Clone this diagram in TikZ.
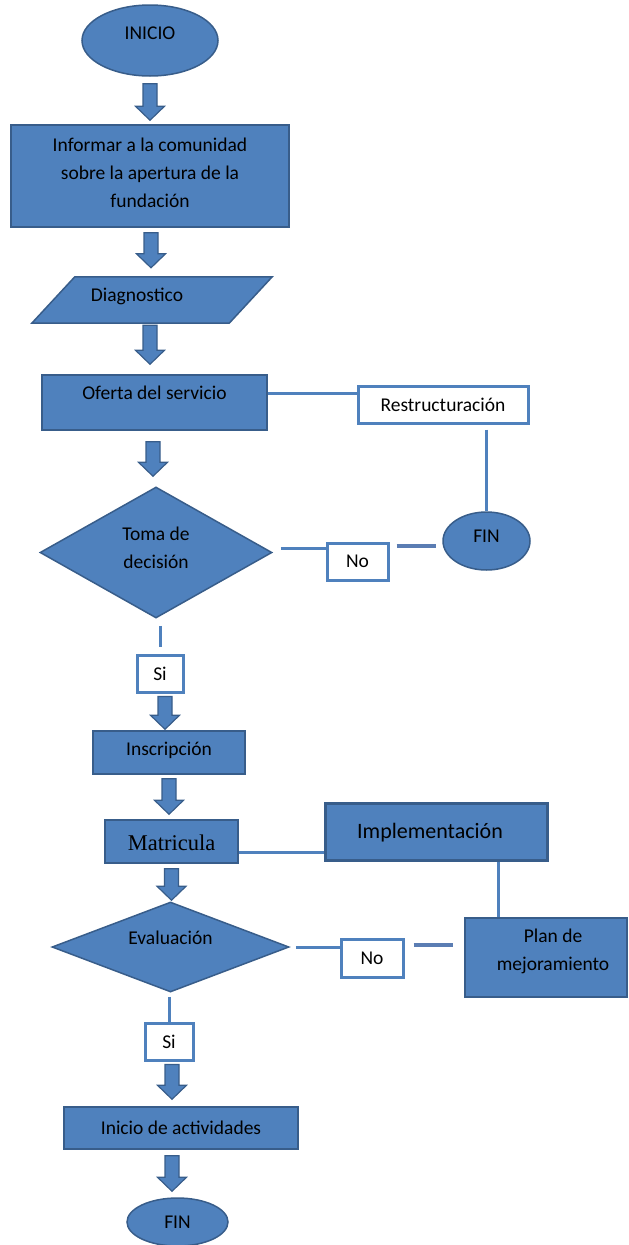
\documentclass[tikz,border=0pt]{standalone}
\usepackage{fontspec}
\setmainfont{Carlito}
\newfontfamily\timesf{Liberation Serif}
\usetikzlibrary{shapes.geometric,calc,backgrounds}
\definecolor{fillb}{HTML}{4F81BD}
\definecolor{bord}{HTML}{385D8A}
\definecolor{linec}{HTML}{4F81BD}
\definecolor{thickc}{HTML}{5B7DB3}
\newcommand\barrow[5]{%
  \draw[barrowst] let \p1=($(#1.south)+(#3pt,-#4pt)$), \p2=($(#2.north)+(0pt,#5pt)$) in
   ({\x1-7pt},{\y1}) -- ({\x1+7pt},{\y1}) -- ({\x1+7pt},{\y2+14pt}) -- ({\x1+14.5pt},{\y2+14pt})
   -- ({\x1},{\y2}) -- ({\x1-14.5pt},{\y2+14pt}) -- ({\x1-7pt},{\y2+14pt}) -- cycle;}
\begin{document}
\begin{tikzpicture}[x=1pt,y=-1pt,
  every node/.style={font=\fontsize{19.5}{28}\selectfont, inner sep=0pt, text=black},
  bluebox/.style={rectangle, fill=fillb, draw=bord, line width=1.5pt},
  blueell/.style={ellipse, fill=fillb, draw=bord, line width=1.5pt},
  bluedia/.style={diamond, fill=fillb, draw=bord, line width=1.5pt},
  wbox/.style={rectangle, fill=white, draw=linec, line width=3pt},
  conn/.style={draw=linec, line width=3pt},
  tconn/.style={draw=thickc, line width=4pt},
  barrowst/.style={fill=fillb, draw=bord, line width=1.2pt, line join=miter},
  lbl/.style={align=center}]
\useasboundingbox (0,0) rectangle (629,1245);

% nodes
\node[blueell, minimum width=136pt, minimum height=71pt,
  label={[lbl,yshift=7pt]center:INICIO}] (inicio) at (150,40.5) {};
\node[bluebox, minimum width=278pt, minimum height=102pt,
  label={[lbl,yshift=3pt]center:{Informar a la comunidad\\sobre la apertura de la\\fundación}}] (inform) at (150,176) {};
\node[rectangle, minimum width=240pt, minimum height=46pt,
  label={[lbl,xshift=-15pt,yshift=4pt]center:Diagnostico}] (diag) at (152,300) {};
\begin{scope}[on background layer]
\draw[fill=fillb, draw=bord, line width=1.5pt]
  ([xshift=43pt]diag.north west) -- (diag.north east) -- ([xshift=-43pt]diag.south east) -- (diag.south west) -- cycle;
\end{scope}
\node[bluebox, minimum width=225pt, minimum height=55pt,
  label={[lbl,yshift=9.5pt]center:Oferta del servicio}] (ofer) at (154.5,402.5) {};
\node[wbox, minimum width=170pt, minimum height=37pt] (restr) at (443,404.5) {Restructuración};
\node[blueell, minimum width=87pt, minimum height=58pt,
  label={[lbl,yshift=5pt]center:FIN}] (fin1) at (486.5,541) {};
\node[bluedia, minimum width=232pt, minimum height=131pt, aspect=1.77,
  label={[lbl,yshift=5pt]center:{Toma de\\decisión}}] (toma) at (156,552.5) {};
\node[wbox, minimum width=61pt, minimum height=37pt] (no1) at (357.5,561.5) {No};
\node[wbox, minimum width=46pt, minimum height=37pt] (si1) at (160,673.5) {Si};
\node[bluebox, minimum width=152pt, minimum height=43pt,
  label={[lbl,yshift=2pt]center:Inscripción}] (insc) at (169,752.5) {};
\node[bluebox, minimum width=133pt, minimum height=43pt,
  label={[lbl,yshift=-1pt,font=\timesf\fontsize{22.5}{26}\selectfont]center:Matricula}] (matr) at (171.5,841.5) {};
\node[rectangle, fill=fillb, draw=bord, line width=3pt, minimum width=222pt, minimum height=57pt,
  label={[lbl,xshift=-6pt,yshift=-1.5pt,font=\fontsize{22}{26}\selectfont]center:Implementación}] (impl) at (436,831.5) {};
\node[bluebox, minimum width=162pt, minimum height=79pt,
  label={[lbl,xshift=7pt,yshift=6.5pt]center:{Plan de\\mejoramiento}}] (plan) at (546,957.5) {};
\node[bluedia, minimum width=237pt, minimum height=90pt, aspect=2.63,
  label={[lbl,yshift=9pt]center:Evaluación}] (eval) at (170.5,947) {};
\node[wbox, minimum width=62pt, minimum height=38pt] (no2) at (372,958) {No};
\node[wbox, minimum width=48pt, minimum height=37pt] (si2) at (169,1041.5) {Si};
\node[bluebox, minimum width=234pt, minimum height=42pt] (inic) at (181,1128) {Inicio de actividades};
\node[blueell, minimum width=101pt, minimum height=48pt] (fin2) at (177.5,1222) {FIN};

% block arrows
\barrow{inicio}{inform}{0}{7}{4}
\barrow{inform}{diag}{1}{5}{9}
\barrow{diag}{ofer}{-2}{2}{10}
\barrow{ofer}{toma}{-1.5}{11}{10}
\barrow{si1}{insc}{5}{3}{1}
\barrow{insc}{matr}{0}{4}{5}
\barrow{matr}{eval}{0}{5}{1}
\barrow{si2}{inic}{3}{3}{7}
\barrow{inic}{fin2}{-9}{6}{6}

% connectors
\coordinate (c1) at ([yshift=9.5pt]ofer.east);
\draw[conn] (c1) -- (c1 -| restr.west);
\coordinate (c2) at ([yshift=-5pt]restr.south -| fin1.north);
\draw[conn] (c2) -- (fin1.north);
\coordinate (c3) at ([yshift=4.5pt]toma.east);
\draw[conn, shorten <=8pt] (c3) -- (c3 -| no1.west);
\coordinate (c4) at ([yshift=15.5pt]no1.east);
\draw[tconn, shorten <=7pt, shorten >=6pt] (c4) -- (c4 -| fin1.west);
\draw[conn, shorten <=7pt, shorten >=7pt] (si1.north |- toma.south) -- (si1.north);
\coordinate (c5) at ([yshift=-10.5pt]matr.east);
\draw[conn] (c5) -- (c5 -| impl.west);
\coordinate (c6) at ([xshift=62pt]impl.south);
\draw[conn] (c6) -- (c6 |- plan.north);
\draw[conn, shorten <=6pt] (eval.east) -- (eval.east -| no2.west);
\coordinate (c7) at ([yshift=13pt]no2.east);
\draw[tconn, shorten <=9pt, shorten >=11pt] (c7) -- (c7 -| plan.west);
\draw[conn, shorten <=4pt] (si2.north |- eval.south) -- (si2.north);
\end{tikzpicture}
\end{document}
